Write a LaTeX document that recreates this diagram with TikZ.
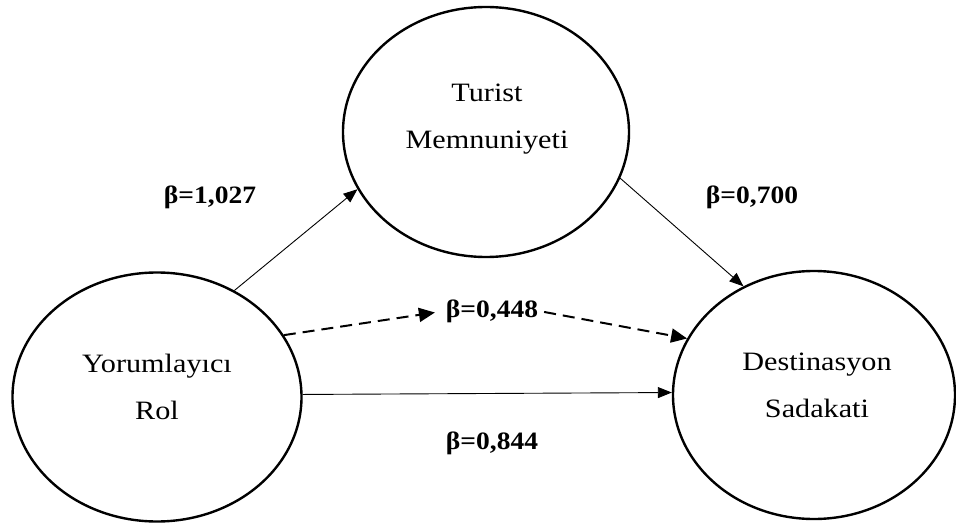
\documentclass[tikz,border=0pt]{standalone}
\usepackage{fontspec}
\setmainfont{Liberation Serif}[FakeStretch=1.1]
\newfontfamily\namefont{Liberation Serif}[FakeStretch=1.14]
\usetikzlibrary{arrows.meta,shapes.geometric}
\begin{document}
\begin{tikzpicture}[x=1pt,y=-1pt,
  construct/.style={draw, ellipse, line width=2.4pt, inner sep=0pt},
  nametext/.style={align=center, inner sep=0pt, font=\namefont\fontsize{26.5}{47}\selectfont},
  coef/.style={font=\fontsize{25}{30}\selectfont\bfseries, anchor=base, inner sep=0pt},
  effect/.style={line width=0.9pt, -{Triangle[length=14pt,width=11pt]}},
  indirect/.style={line width=2pt, dash pattern=on 12pt off 7pt, -{Triangle[length=16pt,width=14pt]}}
]
\useasboundingbox (0,0) rectangle (956,524);

% latent constructs
\node[construct, minimum width=286pt, minimum height=250pt] (tm) at (486,132) {};
\node[construct, minimum width=289pt, minimum height=249pt] (yr) at (157,397) {};
\node[construct, minimum width=282pt, minimum height=248pt] (ds) at (814,395) {};

\node[nametext] (tmt) at (487,119) {Turist\\Memnuniyeti};
\node[nametext] (yrt) at (157,387) {Yorumlay\i c\i\\Rol};
\node[nametext] (dst) at (817,385) {Destinasyon\\Sadakati};

% path coefficients
\node[coef] (b1) at (210,203) {β=1,027};
\node[coef] (b2) at (752,203) {β=0,700};
\node[coef] (b3) at (492,317) {β=0,448};
\node[coef] (b4) at (492,449) {β=0,844};

% structural paths
\draw[effect] (yr.54.3) -- (tm.204.3);
\draw[effect] (tm.341.3) -- (ds.123.2);
\draw[effect] (yr.1.6) -- (ds.179.2);
\draw[indirect, shorten >=11pt] (yr.26.2) -- (b3.west);
\draw[indirect, shorten <=6pt] (b3.east) -- (ds.156.1);
\end{tikzpicture}
\end{document}
